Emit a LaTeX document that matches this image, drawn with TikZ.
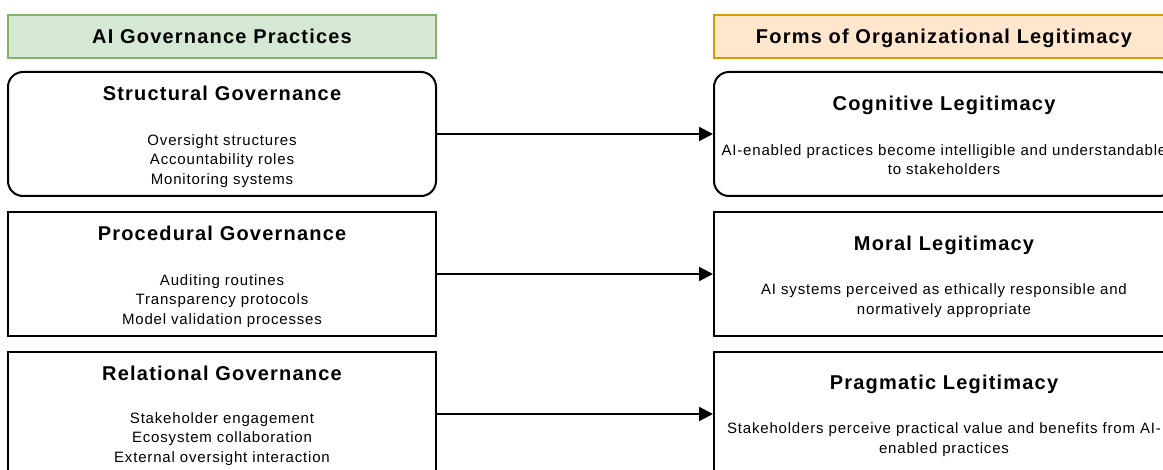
\documentclass[tikz,border=0pt]{standalone}
\usepackage{fontspec}
\setmainfont{Liberation Sans}
\usetikzlibrary{arrows.meta}
\definecolor{hdrgreenfill}{HTML}{D5E8D4}
\definecolor{hdrgreenline}{HTML}{82B366}
\definecolor{hdrorangefill}{HTML}{FFE6CC}
\definecolor{hdrorangeline}{HTML}{D79B00}
\newfontfamily\ttlfont[LetterSpace=6]{Liberation Sans}
\newfontfamily\bodyfont[LetterSpace=5.5]{Liberation Sans}
\tikzset{
  hdr/.style={draw, line width=1.2pt, minimum width=428pt, minimum height=43pt, inner sep=0pt},
  gbox/.style={draw, line width=2pt, minimum width=428pt, minimum height=124pt, inner sep=0pt},
  lbox/.style={draw, line width=2pt, minimum width=460pt, minimum height=124pt, inner sep=0pt},
  ttl/.style={font=\ttlfont\fontsize{20}{22}\selectfont\bfseries, inner sep=0pt, anchor=base},
  body/.style={font=\bodyfont\fontsize{15}{19.6}\selectfont, align=center, inner sep=0pt, anchor=base},
  link/.style={line width=2pt, -{Triangle[length=14pt,width=14pt]}}
}
\begin{document}
\begin{tikzpicture}[x=1pt,y=-1pt]
\useasboundingbox (0,0) rectangle (1163,470);
\clip (0,0) rectangle (1163,470);
% headers
\node[hdr, fill=hdrgreenfill, draw=hdrgreenline] (hl) at (222,36.5) {};
\node[hdr, fill=hdrorangefill, draw=hdrorangeline, minimum width=460pt] (hr) at (944,36.5) {};
\node[ttl] (hlt) at (222,43.5) {AI Governance Practices};
\node[ttl] (hrt) at (944,43.5) {Forms of Organizational Legitimacy};
% left boxes
\node[gbox, rounded corners=15pt] (sg) at (222,134) {};
\node[gbox] (pg) at (222,274) {};
\node[gbox] (rg) at (222,414) {};
% right boxes
\node[lbox, rounded corners=15pt] (cl) at (944,134) {};
\node[lbox] (ml) at (944,274) {};
\node[lbox] (pl) at (944,414) {};
% titles
\node[ttl] (sgt) at (222,100.5) {Structural Governance};
\node[ttl] (pgt) at (222,240.5) {Procedural Governance};
\node[ttl] (rgt) at (222,380.5) {Relational Governance};
\node[ttl] (clt) at (944,111) {Cognitive Legitimacy};
\node[ttl] (mlt) at (944,250.5) {Moral Legitimacy};
\node[ttl] (plt) at (944,389.5) {Pragmatic Legitimacy};
% bodies (anchor base = baseline of the last line)
\node[body] (sgb) at (222,184.5) {Oversight structures\\Accountability roles\\Monitoring systems};
\node[body] (pgb) at (222,324.3) {Auditing routines\\Transparency protocols\\Model validation processes};
\node[body] (rgb) at (222,462.5) {Stakeholder engagement\\Ecosystem collaboration\\External oversight interaction};
\node[body] (clb) at (944,174.8) {AI-enabled practices become intelligible and understandable\\to stakeholders};
\node[body] (mlb) at (944,314.5) {AI systems perceived as ethically responsible and\\normatively appropriate};
\node[body] (plb) at (944,453.2) {Stakeholders perceive practical value and benefits from AI-\\enabled practices};
% connectors
\draw[link] (sg.east) -- (cl.west);
\draw[link] (pg.east) -- (ml.west);
\draw[link] (rg.east) -- (pl.west);
\end{tikzpicture}
\end{document}
